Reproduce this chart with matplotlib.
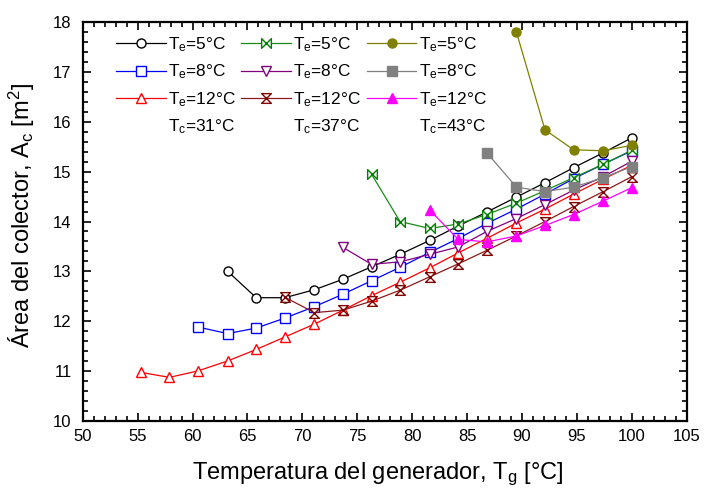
import matplotlib
matplotlib.use("Agg")
from matplotlib import pyplot as plt
from matplotlib.lines import Line2D
from matplotlib.path import Path
from matplotlib.ticker import MultipleLocator

plt.rcParams['font.family'] = ['Liberation Sans', 'DejaVu Sans']
plt.rcParams['mathtext.default'] = 'regular'

# === Datos: área del colector vs temperatura del generador ===
# Tc = 31 °C
tg_te5_tc31 = [63.2, 65.8, 68.4, 71.1, 73.7, 76.3, 78.9, 81.6, 84.2, 86.8, 89.5, 92.1, 94.7, 97.4, 100.0]
ac_te5_tc31 = [13.00, 12.47, 12.47, 12.63, 12.84, 13.09, 13.34, 13.62, 13.91, 14.19, 14.49, 14.78, 15.08, 15.38, 15.68]

tg_te8_tc31 = [60.5, 63.2, 65.8, 68.4, 71.1, 73.7, 76.3, 78.9, 81.6, 84.2, 86.8, 89.5, 92.1, 94.7, 97.4, 100.0]
ac_te8_tc31 = [11.88, 11.75, 11.86, 12.06, 12.29, 12.54, 12.81, 13.08, 13.38, 13.66, 13.96, 14.25, 14.55, 14.86, 15.15, 15.42]

tg_te12_tc31 = [55.3, 57.9, 60.5, 63.2, 65.8, 68.4, 71.1, 73.7, 76.3, 78.9, 81.6, 84.2, 86.8, 89.5, 92.1, 94.7, 97.4, 100.0]
ac_te12_tc31 = [10.97, 10.87, 11.00, 11.20, 11.43, 11.68, 11.94, 12.22, 12.51, 12.78, 13.07, 13.37, 13.66, 13.97, 14.25, 14.55, 14.85, 15.13]

# Tc = 37 °C
tg_te5_tc37 = [76.3, 78.9, 81.6, 84.2, 86.8, 89.5, 92.1, 94.7, 97.4, 100.0]
ac_te5_tc37 = [14.95, 14.00, 13.86, 13.95, 14.14, 14.37, 14.62, 14.88, 15.15, 15.43]

tg_te8_tc37 = [73.7, 76.3, 78.9, 81.6, 84.2, 86.8, 89.5, 92.1, 94.7, 97.4, 100.0]
ac_te8_tc37 = [13.48, 13.14, 13.19, 13.34, 13.49, 13.80, 14.06, 14.34, 14.63, 14.90, 15.21]

tg_te12_tc37 = [68.4, 71.1, 73.7, 76.3, 78.9, 81.6, 84.2, 86.8, 89.5, 92.1, 94.7, 97.4, 100.0]
ac_te12_tc37 = [12.48, 12.17, 12.22, 12.40, 12.62, 12.89, 13.15, 13.42, 13.71, 14.00, 14.30, 14.60, 14.90]

# Tc = 43 °C
tg_te5_tc43 = [89.5, 92.1, 94.7, 97.4, 100.0]
ac_te5_tc43 = [17.80, 15.84, 15.44, 15.42, 15.53]

tg_te8_tc43 = [86.8, 89.5, 92.1, 94.7, 97.4, 100.0]
ac_te8_tc43 = [15.38, 14.69, 14.60, 14.69, 14.88, 15.10]

tg_te12_tc43 = [81.6, 84.2, 86.8, 89.5, 92.1, 94.7, 97.4, 100.0]
ac_te12_tc43 = [14.23, 13.64, 13.59, 13.71, 13.92, 14.14, 14.41, 14.68]

# === Marcadores propios (moño horizontal y reloj de arena) ===
BOWTIE = Path([(-1, 1), (1, -1), (1, 1), (-1, -1), (-1, 1)],
              [Path.MOVETO, Path.LINETO, Path.LINETO, Path.LINETO, Path.CLOSEPOLY])
HOURGLASS = Path([(-1, 1), (1, 1), (-1, -1), (1, -1), (-1, 1)],
                 [Path.MOVETO, Path.LINETO, Path.LINETO, Path.LINETO, Path.CLOSEPOLY])

fig = plt.figure(figsize=(7.05, 4.88), dpi=100)
ax = fig.add_axes([0.1173, 0.1379, 0.8567, 0.8164])

series = [
    (tg_te5_tc31, ac_te5_tc31, '#000000', '#000000', 'o', 'white', 6.5, 'T$_e$=5°C'),
    (tg_te8_tc31, ac_te8_tc31, '#0000FF', '#0000FF', 's', 'white', 6.5, 'T$_e$=8°C'),
    (tg_te12_tc31, ac_te12_tc31, '#FF0000', '#FF0000', '^', 'white', 7, 'T$_e$=12°C'),
    (tg_te5_tc37, ac_te5_tc37, '#1A8C1A', '#008000', BOWTIE, 'white', 7, 'T$_e$=5°C'),
    (tg_te8_tc37, ac_te8_tc37, '#800080', '#800080', 'v', 'white', 7, 'T$_e$=8°C'),
    (tg_te12_tc37, ac_te12_tc37, '#8B1A1A', '#800000', HOURGLASS, 'white', 7, 'T$_e$=12°C'),
    (tg_te5_tc43, ac_te5_tc43, '#808000', '#808000', 'o', '#808000', 6.5, 'T$_e$=5°C'),
    (tg_te8_tc43, ac_te8_tc43, '#808080', '#808080', 's', '#808080', 6.5, 'T$_e$=8°C'),
    (tg_te12_tc43, ac_te12_tc43, '#FF00FF', '#FF00FF', '^', '#FF00FF', 7, 'T$_e$=12°C'),
]

handles = []
for x, y, lc, mc, mk, mf, ms, lab in series:
    h, = ax.plot(x, y, color=lc, linewidth=0.9, marker=mk, markersize=ms,
                 markeredgecolor=mc, markerfacecolor=mf, markeredgewidth=1.0, label=lab)
    handles.append(h)

# Filas extra de la leyenda con la temperatura del condensador
blank = Line2D([], [], linestyle='none')
tc_labels = ['T$_c$=31°C', 'T$_c$=37°C', 'T$_c$=43°C']
leg_handles, leg_labels = [], []
for col in range(3):
    for row in range(3):
        h = handles[col * 3 + row]
        leg_handles.append(h)
        leg_labels.append(h.get_label())
    leg_handles.append(blank)
    leg_labels.append(tc_labels[col])

ax.legend(leg_handles, leg_labels, ncol=3, loc='upper left', bbox_to_anchor=(0.055, 0.967),
          frameon=False, fontsize=12.4, handlelength=2.9, handletextpad=0.12,
          columnspacing=0.32, labelspacing=0.5, borderpad=0, borderaxespad=0)

ax.set_xlim(50, 105)
ax.set_ylim(10, 18)
ax.xaxis.set_major_locator(MultipleLocator(5))
ax.xaxis.set_minor_locator(MultipleLocator(1))
ax.yaxis.set_major_locator(MultipleLocator(1))
ax.yaxis.set_minor_locator(MultipleLocator(0.2))
ax.tick_params(which='both', direction='in', top=True, right=True, labelsize=12, width=1.2)
ax.tick_params(which='major', length=6, pad=6)
ax.tick_params(which='minor', length=3.5)
ax.tick_params(axis='y', which='major', pad=8)
for sp in ax.spines.values():
    sp.set_linewidth(1.6)

ax.set_xlabel('Temperatura del generador, T$_g$ [°C]', fontsize=17)
ax.set_ylabel('Área del colector, A$_c$ [m$^2$]', fontsize=17)
ax.xaxis.set_label_coords(0.489, -0.101)
ax.yaxis.set_label_coords(-0.075, 0.516)

plt.savefig('out.png', dpi=100, facecolor='white')
plt.close()
